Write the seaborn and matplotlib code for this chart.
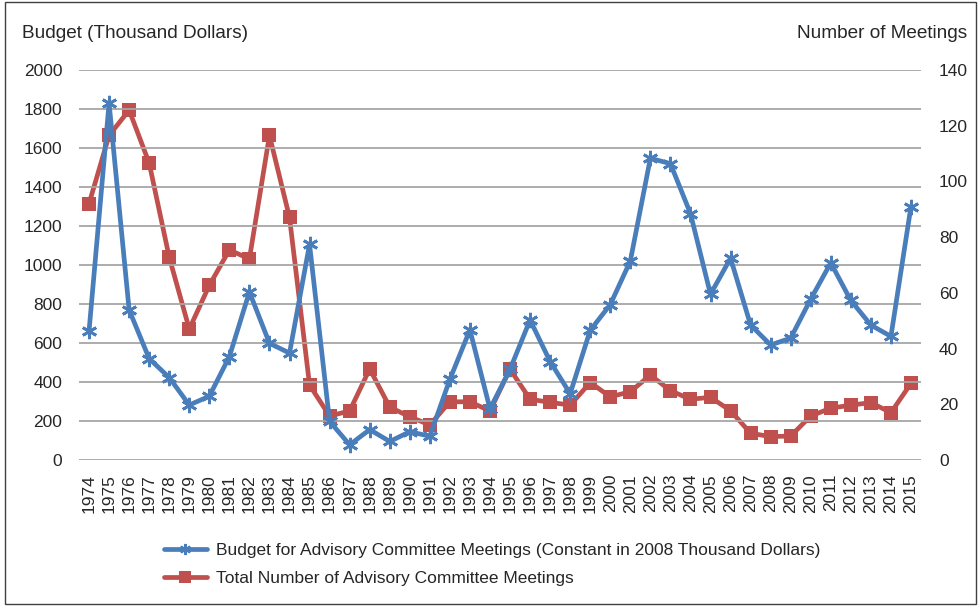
import matplotlib
matplotlib.use("Agg")
import matplotlib.pyplot as plt
import seaborn as sns
import pandas as pd
from matplotlib.patches import Rectangle
from matplotlib.lines import Line2D

years = list(range(1974, 2016))
budget = [660, 1830, 770, 520, 423, 282, 327, 530, 862, 599, 548, 1106, 198, 78, 156,
          95, 145, 122, 414, 667, 262, 465, 718, 505, 340, 665, 797, 1020, 1547, 1520,
          1264, 850, 1035, 692, 590, 625, 825, 1011, 818, 692, 634, 1300]
meetings = [92, 116.5, 125.6, 106.6, 72.8, 47, 62.7, 75.4, 72.2, 116.5, 87.1, 26.9, 15.8,
            17.6, 32.7, 19, 15.5, 12.6, 20.9, 20.9, 17.6, 32.6, 21.8, 20.7, 19.7, 27.8,
            22.7, 24.5, 30.5, 24.9, 21.8, 22.5, 17.7, 9.6, 8.4, 8.6, 15.8, 18.6, 19.7,
            20.6, 17, 27.5]
left_ticks = list(range(0, 2001, 200))
right_ticks = list(range(0, 141, 20))
budget_label = "Budget for Advisory Committee Meetings (Constant in 2008 Thousand Dollars)"
meetings_label = "Total Number of Advisory Committee Meetings"

df = pd.DataFrame({"year": years, "budget": budget, "meetings": meetings})

sns.set_theme(style="white")
plt.rcParams["font.family"] = ["Liberation Sans", "DejaVu Sans"]

BLUE = "#4A7EBB"
RED = "#C0504D"
GRID = "#A6A6A6"
TXT = "#262626"

fig = plt.figure(figsize=(9.8, 6.06), dpi=100)
fig.patch.set_facecolor("white")
ax = fig.add_axes([79/980, 1-460/606, (921-79)/980, 390/606])
ax2 = ax.twinx()

sns.lineplot(data=df, x="year", y="meetings", ax=ax2, color=RED, lw=3.4,
             marker="s", markersize=9.5, markeredgewidth=0, zorder=2)
sns.lineplot(data=df, x="year", y="budget", ax=ax, color=BLUE, lw=3.4,
             marker=(6, 2, 0), markersize=11, markeredgewidth=2, markeredgecolor=BLUE,
             zorder=3)
ax.set_zorder(ax2.get_zorder() + 1)
ax.patch.set_visible(False)

ax.set_xlim(1973.5, 2015.5)
ax.set_ylim(0, 2000)
ax2.set_ylim(0, 140)
ax.set_yticks(left_ticks)
ax2.set_yticks(right_ticks)
ax.set_xticks(years)
ax.set_xticklabels([str(y) for y in years], rotation=90, fontsize=12.5, color=TXT)
ax.set_yticklabels([str(v) for v in left_ticks], fontsize=12.5, color=TXT)
ax2.set_yticklabels([str(v) for v in right_ticks], fontsize=12.5, color=TXT)
ax.set_xlabel("")
ax.set_ylabel("")
ax2.set_ylabel("")
ax.tick_params(axis="y", length=0, pad=12)
ax2.tick_params(axis="y", length=0, pad=13)
ax.tick_params(axis="x", length=0, pad=10)
for a in (ax, ax2):
    for s in a.spines.values():
        s.set_visible(False)
    a.grid(False)
for v in left_ticks:
    ax.axhline(v, color=GRID, lw=1.3, zorder=0)

fig.text(22/980, 1-33/606, "Budget (Thousand Dollars)", fontsize=13.7, color=TXT,
         ha="left", va="center")
fig.text(967/980, 1-33/606, "Number of Meetings", fontsize=13.7, color=TXT,
         ha="right", va="center")

handles = [Line2D([], [], color=BLUE, lw=3.4, marker=(6, 2, 0), markersize=8,
                  markeredgewidth=1.8, markeredgecolor=BLUE),
           Line2D([], [], color=RED, lw=3.4, marker="s", markersize=8, markeredgewidth=0)]
leg = fig.legend(handles, [budget_label, meetings_label], loc="upper left",
                 bbox_to_anchor=(148/980, 1-527/606), frameon=False, fontsize=12.5,
                 handlelength=2.5, handletextpad=0.5, labelspacing=0.75)
for t in leg.get_texts():
    t.set_color(TXT)

fig.patches.append(Rectangle((5/980, 2/606), 971/980, 602/606, transform=fig.transFigure,
                             fill=False, edgecolor="#404040", lw=1.0))

fig.savefig("out.png", dpi=100)
